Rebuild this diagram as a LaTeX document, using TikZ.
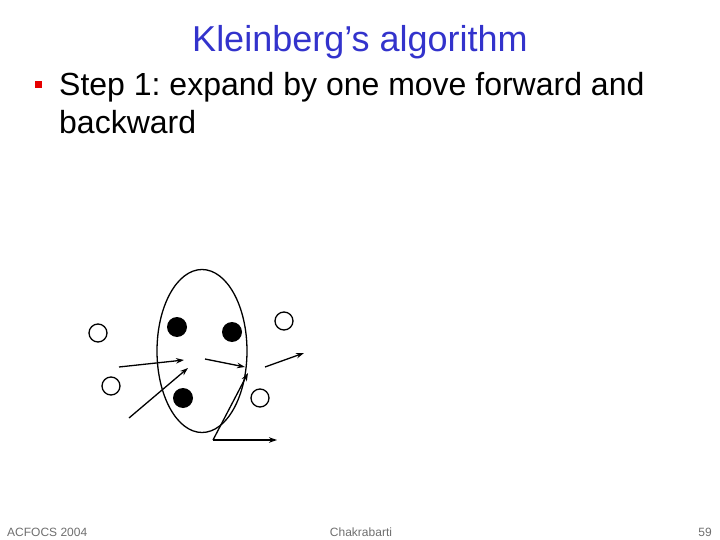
\documentclass[tikz,border=0pt]{standalone}
\usepackage{fontspec}
\setmainfont{Liberation Sans}
\usepackage{xcolor}
\usetikzlibrary{arrows.meta,shapes.geometric}
\frenchspacing

\definecolor{titleblue}{RGB}{51,51,204}
\definecolor{bulletred}{RGB}{230,0,0}
\definecolor{footgray}{RGB}{110,110,110}

\begin{document}
\begin{tikzpicture}[x=1pt, y=-1pt, >={Stealth[length=8pt,width=5.5pt]}]
        \useasboundingbox (0,0) rectangle (720,540);

        % Title and bullet
        \node[anchor=base, font=\fontsize{36}{43}\selectfont, text=titleblue, inner sep=0pt] (title) at (360,52) {Kleinberg’s algorithm};
        \node[draw=none, fill=bulletred, minimum size=7pt, inner sep=0pt] (bullet) at (38.5,84.5) {};
        \node[anchor=base west, font=\fontsize{32}{38}\selectfont, align=left, inner sep=0pt] (step) at (59,134) {Step 1: expand by one move forward and\\backward};

        % Base set
        \node[draw, ellipse, line width=1.3pt, minimum width=90pt, minimum height=163pt] (base) at (202,351) {};

        % Root pages
        \node[circle, fill=black, minimum size=20pt, inner sep=0pt] (r1) at (177,327) {};
        \node[circle, fill=black, minimum size=20pt, inner sep=0pt] (r2) at (232,332) {};
        \node[circle, fill=black, minimum size=20pt, inner sep=0pt] (r3) at (183,398) {};

        % Other pages
        \node[circle, draw, line width=1.3pt, minimum size=18pt, inner sep=0pt] (o1) at (98,333) {};
        \node[circle, draw, line width=1.3pt, minimum size=18pt, inner sep=0pt] (o2) at (111,386) {};
        \node[circle, draw, line width=1.3pt, minimum size=18pt, inner sep=0pt] (o3) at (284,321) {};
        \node[circle, draw, line width=1.3pt, minimum size=18pt, inner sep=0pt] (o4) at (260,398) {};

        % Link ends
        \coordinate (a1) at (119,367);
        \coordinate (b1) at (184,360);
        \coordinate (a2) at (129,418);
        \coordinate (b2) at (188,368);
        \coordinate (a3) at (205,359);
        \coordinate (b3) at (245,367);
        \coordinate (a4) at (265,367);
        \coordinate (b4) at (304,353);
        \coordinate (a5) at (213,440);
        \coordinate (b5) at (248,373);
        \coordinate (c5) at (277,440);

        % Links
        \draw[->, line width=1.3pt] (a1) -- (b1);
        \draw[->, line width=1.3pt] (a2) -- (b2);
        \draw[->, line width=1.3pt] (a3) -- (b3);
        \draw[->, line width=1.3pt] (a4) -- (b4);
        \draw[->, line width=1.3pt] (a5) -- (b5);
        \draw[->, line width=1.3pt] (a5) -- (c5);

        % Footer
        \node[anchor=base west, font=\fontsize{12}{14}\selectfont, text=footgray, inner sep=0pt] (venue) at (7,536) {ACFOCS 2004};
        \node[anchor=base, font=\fontsize{12}{14}\selectfont, text=footgray, inner sep=0pt] (author) at (361,536) {Chakrabarti};
        \node[anchor=base east, font=\fontsize{12}{14}\selectfont, text=footgray, inner sep=0pt] (page) at (712,536) {59};
    \end{tikzpicture}
\end{document}
